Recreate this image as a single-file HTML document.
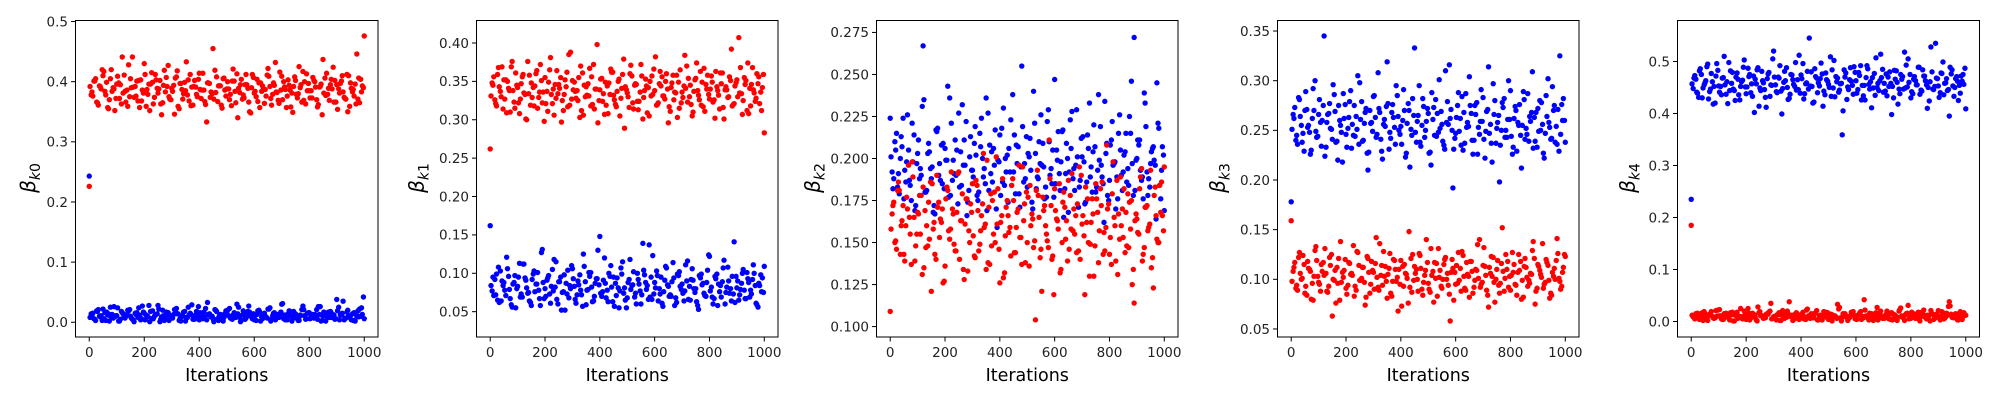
<!DOCTYPE html>
<html><head><meta charset="utf-8"><style>
html,body{margin:0;padding:0;background:#fff;}
svg{display:block;font-family:"DejaVu Sans","Liberation Sans",sans-serif;}
</style></head><body>
<svg id="fig" width="2000" height="400" viewBox="0 0 2000 400" xmlns="http://www.w3.org/2000/svg"></svg>
<script>
const iterTicks=[0,200,400,600,800,1000];
const iterations=[];for(let i=0;i<=100;i++)iterations.push(i*10);
const iterationsB=[];for(let i=0;i<100;i++)iterationsB.push(i*10+3);
const iterationsC=[];for(let i=0;i<100;i++)iterationsC.push(i*10+7);
const k0Red=[226,383,401,365,392,410,378,355,420,388,396,372,441,384,359,405,391,376,402,368,430,387,352,399,412,381,363,394,407,375,389,346,418,397,371,385,403,360,392,379,414,386,367,398,374,455,382,393,361,406,388,370,401,384,340,395,378,412,366,390,381,404,357,393,387,422,372,398,383,364,409,391,376,386,349,402,380,395,369,413,385,373,400,358,392,437,377,389,404,366,395,381,410,372,350,398,387,363,406,383,476];
const k0RedB=[392,376,405,361,388,417,399,370,384,352,409,395,381,366,428,390,374,401,357,386,412,379,396,363,403,388,345,419,392,371,384,406,359,397,380,433,368,391,402,375,387,414,362,398,383,371,408,393,356,386,400,379,421,365,389,404,373,395,350,412,384,367,398,388,376,409,361,394,382,416,370,387,403,358,392,379,425,366,400,385,373,407,391,362,396,381,414,369,388,402,354,397,383,371,410,389,376,446,365,393];
const k0RedC=[378,401,366,393,420,384,357,405,390,372,398,363,411,386,375,441,392,368,403,381,359,396,415,374,389,402,365,383,427,370,394,408,355,387,399,378,412,361,391,404,372,386,333,397,380,419,367,393,405,376,388,360,401,413,382,371,395,389,348,407,375,398,384,364,411,392,379,432,369,386,400,357,394,381,408,373,390,417,363,397,385,402,370,391,345,406,379,395,424,366,388,401,374,412,359,383,396,371,404,390];
const k0Blue=[243,12,5,18,9,22,3,14,8,26,11,2,16,7,20,10,4,13,24,6,15,9,1,19,12,28,5,11,17,3,8,21,14,6,10,2,25,13,7,18,4,15,9,33,11,6,20,3,12,8,16,23,5,10,14,1,19,7,27,11,4,13,17,6,9,22,2,15,10,8,30,12,4,18,7,14,3,11,21,6,16,9,13,5,26,10,2,17,8,12,38,4,15,7,20,11,3,14,9,24,6];
const k0BlueB=[8,15,3,21,11,6,17,2,13,9,24,5,14,10,19,7,1,16,12,27,4,10,18,6,13,22,9,3,15,11,7,20,14,2,17,8,12,29,5,10,16,6,23,13,9,1,18,11,4,14,20,7,12,8,25,3,15,10,17,6,11,19,2,13,9,22,5,16,8,12,31,4,14,10,18,7,3,21,11,15,6,13,9,26,2,17,10,8,14,5,19,12,35,7,11,4,16,9,22,13];
const k0BlueC=[14,6,19,10,3,16,12,25,7,11,2,18,9,13,21,5,15,8,4,17,12,28,6,10,14,1,20,9,16,7,13,23,3,11,18,8,15,5,12,26,9,17,4,14,10,21,6,13,2,19,11,7,16,30,8,12,5,18,10,14,3,20,9,15,7,24,11,4,13,17,6,10,19,2,14,8,12,27,5,16,10,7,21,13,3,15,9,18,11,6,25,12,4,17,8,14,2,19,10,42];
const k1Red=[262,345,321,368,330,352,309,338,376,315,342,327,359,301,334,348,318,364,336,322,355,311,381,340,328,346,297,333,362,319,351,337,325,370,306,343,331,356,314,398,339,324,349,308,366,332,317,353,341,289,335,360,322,347,313,372,329,344,305,357,338,320,363,331,350,296,342,326,358,315,336,384,323,345,310,354,332,319,367,340,327,349,302,338,361,316,343,330,392,321,352,335,307,346,374,318,339,328,356,312,283];
const k1RedB=[331,356,318,343,369,327,350,310,338,361,322,347,335,300,358,329,344,315,372,336,321,349,333,306,364,341,325,352,317,388,339,328,355,312,345,332,367,320,340,296,353,334,319,348,362,326,337,305,359,343,330,371,314,346,324,357,338,309,350,333,382,322,344,331,360,317,348,336,303,365,329,341,354,320,337,374,326,349,311,358,340,323,363,332,347,301,339,356,318,344,330,368,325,351,308,346,335,360,321,342];
const k1RedC=[348,326,359,337,314,352,341,369,323,345,308,356,333,376,319,342,360,329,351,298,337,365,321,346,334,355,312,343,385,327,349,338,303,361,330,347,318,372,340,325,354,307,344,333,362,320,350,328,379,339,316,357,345,324,336,301,353,342,331,366,319,347,356,327,340,311,358,335,349,322,344,370,330,305,352,338,363,317,346,333,357,326,343,314,361,339,329,351,320,348,407,334,355,312,341,368,324,347,336,359];
const k1Blue=[162,95,72,108,64,88,121,79,56,97,83,69,112,91,75,58,103,86,67,131,80,94,61,77,115,89,52,98,73,84,106,66,90,78,125,59,101,82,70,93,148,76,87,63,110,95,71,55,99,81,68,118,85,74,92,60,104,79,137,66,88,97,73,57,109,83,70,94,62,102,86,77,116,65,91,80,53,99,74,88,122,69,96,58,84,107,75,90,64,141,81,72,100,67,93,78,111,61,87,76,109];
const k1BlueB=[84,71,99,62,90,78,106,67,86,55,95,73,112,81,64,92,76,101,58,88,70,97,83,118,66,89,75,52,104,80,93,61,85,72,109,78,96,63,87,130,74,91,68,100,82,57,94,77,115,65,88,79,102,60,86,72,98,84,69,123,81,64,95,76,107,70,89,58,99,83,74,111,66,92,80,63,97,85,71,104,77,60,93,86,69,117,82,74,96,62,90,79,105,67,88,73,100,59,84,94];
const k1BlueC=[77,92,65,103,84,71,96,59,88,80,113,69,94,74,62,99,86,78,127,67,91,73,105,82,60,95,76,87,68,110,83,72,98,57,89,79,101,64,93,85,70,120,78,96,63,87,81,107,74,55,92,84,69,100,77,139,88,66,95,73,103,80,61,91,85,72,114,68,97,79,64,90,83,106,75,58,94,87,70,124,82,67,99,76,89,60,108,80,73,96,65,87,78,101,69,92,84,56,98,75];
const k2Blue=[224,182,205,191,213,176,198,187,221,169,203,194,267,180,209,188,172,216,197,185,206,243,178,199,190,227,184,211,166,201,193,219,175,207,189,236,181,204,196,159,214,186,200,174,223,192,208,179,255,197,183,212,170,203,188,226,195,177,210,185,247,199,181,217,191,168,206,194,229,183,201,173,214,189,204,180,238,196,162,209,187,222,198,176,205,192,215,184,246,272,200,211,189,233,178,197,207,164,218,193,169];
const k2BlueB=[201,188,215,179,207,193,226,184,198,172,211,190,235,181,204,195,167,218,187,209,199,177,221,191,205,183,232,196,174,213,189,202,180,224,194,169,208,186,217,199,178,230,192,206,184,214,197,171,219,188,203,193,240,182,210,196,176,222,190,205,185,216,198,165,209,192,228,181,201,187,213,174,206,195,220,183,199,189,234,178,208,196,170,215,190,202,186,225,197,181,211,193,176,219,188,204,199,245,184,207];
const k2BlueC=[192,210,183,200,224,186,205,175,214,197,188,231,180,203,194,168,217,190,208,182,199,236,187,211,173,204,196,222,181,193,209,178,215,200,185,227,191,206,170,198,218,184,202,192,238,179,207,195,186,213,201,174,221,189,197,209,183,229,194,177,205,191,216,182,200,223,188,196,171,212,198,186,233,180,207,193,219,185,203,175,211,197,189,226,181,204,194,215,178,199,208,187,239,192,183,206,196,221,176,202];
const k2Red=[109,172,151,186,160,143,177,165,198,139,168,155,183,147,174,121,162,190,153,170,136,181,158,167,145,192,163,128,176,150,185,141,169,157,203,134,171,148,180,161,126,188,154,166,142,175,159,196,137,173,150,184,164,104,178,146,169,155,211,140,182,163,132,174,152,187,158,170,144,195,161,119,176,149,167,185,138,172,156,208,143,179,160,131,189,153,168,147,175,114,164,182,139,171,157,193,123,166,150,186,195];
const k2RedB=[158,174,146,181,163,139,170,155,189,148,167,178,135,160,152,185,143,171,164,126,176,157,192,149,168,140,179,161,133,173,154,187,145,166,159,199,137,175,150,182,162,129,171,156,184,144,168,153,195,138,177,160,147,181,165,121,172,151,188,142,169,158,134,180,163,146,191,155,173,140,166,183,150,162,130,176,157,186,145,170,153,198,139,167,160,182,148,174,125,163,156,189,143,171,159,135,178,152,184,166];
const k2RedC=[167,150,181,143,172,160,196,137,165,155,178,131,169,148,186,158,140,174,162,127,183,152,170,145,191,163,134,176,157,168,142,184,149,173,161,138,179,155,201,146,166,132,175,159,188,144,170,153,163,180,136,167,151,193,141,177,160,147,172,119,164,185,150,171,139,178,157,166,145,190,154,162,130,176,148,168,182,143,159,173,137,165,187,152,170,144,179,158,134,167,155,194,147,172,161,141,183,150,168,157];
const k3Blue=[178,262,245,281,238,270,253,226,292,249,266,234,345,258,277,241,269,220,255,287,246,263,232,275,251,298,239,268,210,257,284,243,272,229,261,319,248,276,236,264,254,291,227,270,245,333,259,238,282,250,267,215,273,244,301,256,231,279,262,192,247,288,235,268,253,304,240,275,226,259,283,249,314,237,266,252,198,278,243,261,290,233,270,255,212,281,246,264,309,239,272,250,227,285,258,242,275,236,325,260,238];
const k3BlueB=[251,273,236,264,247,289,255,230,270,243,281,260,224,266,252,296,238,275,248,262,233,279,256,244,305,261,240,272,228,258,285,246,268,221,254,277,242,263,295,250,236,270,257,213,282,248,265,234,274,259,227,288,245,267,252,239,310,256,271,231,263,249,284,237,258,275,226,266,253,291,241,269,247,218,280,258,235,273,250,300,244,262,229,276,255,241,287,259,232,268,249,278,222,264,253,294,238,271,246,282];
const k3BlueC=[266,240,283,255,229,271,248,262,300,244,258,275,233,267,251,286,239,260,218,276,252,290,245,264,236,279,257,227,270,249,263,308,241,256,274,231,268,253,285,246,260,223,277,251,265,238,295,255,243,272,228,261,281,248,269,235,258,316,250,242,275,262,230,287,254,267,240,278,246,259,222,271,256,297,237,265,250,282,243,261,226,274,258,245,289,252,239,268,263,233,280,256,247,302,241,270,254,229,276,260];
const k3Red=[159,112,94,127,101,86,118,108,79,133,97,115,104,88,122,63,109,96,138,102,91,117,106,83,128,99,112,74,121,95,107,142,89,114,103,81,126,98,110,68,119,93,105,148,87,113,100,124,84,109,96,131,77,116,102,91,120,106,58,111,95,127,88,103,117,82,108,99,135,92,114,104,72,123,97,110,86,152,101,118,89,107,94,125,80,113,102,96,129,75,115,105,91,120,99,84,111,141,98,107,123];
const k3RedB=[98,117,89,106,124,93,111,80,103,119,95,108,131,87,114,100,76,121,97,109,85,116,104,93,127,99,112,82,107,118,90,102,136,94,113,105,86,120,98,110,73,115,101,92,125,106,88,111,97,140,90,104,117,83,109,100,122,94,107,79,114,99,128,91,105,118,86,110,101,95,132,89,112,103,77,119,96,108,125,92,104,115,84,109,99,121,93,106,138,88,113,102,95,117,81,107,100,126,90,112];
const k3RedC=[108,91,122,100,115,84,110,96,129,103,88,117,106,93,125,99,112,79,107,120,94,105,134,89,114,101,97,123,86,109,116,92,104,128,98,111,83,119,102,95,113,106,76,121,99,110,126,90,104,117,87,108,101,131,93,115,100,85,120,107,96,111,124,89,103,118,92,109,140,97,113,84,106,122,100,94,116,88,110,103,127,95,107,118,82,112,99,105,121,91,109,136,97,114,86,103,119,101,93,125];
const k4Blue=[235,468,441,482,430,459,495,447,418,472,453,436,510,461,444,479,425,466,452,489,438,471,457,402,484,449,463,431,476,455,520,442,468,399,481,450,437,465,498,446,474,428,459,545,452,486,440,467,414,478,456,433,502,461,445,359,470,451,488,437,463,479,426,454,492,447,469,435,458,514,441,476,452,398,483,460,438,471,449,505,430,466,455,489,443,472,410,461,447,535,453,478,436,467,395,484,450,462,439,475,409];
const k4BlueB=[457,473,439,486,449,463,428,477,452,496,441,468,455,419,482,447,470,436,461,503,451,475,433,466,488,444,459,412,479,454,470,440,492,448,463,427,475,456,445,512,467,438,481,453,420,471,459,497,443,465,450,484,432,468,457,405,478,446,462,490,439,473,454,426,486,461,449,507,444,469,458,434,480,452,466,418,475,447,493,460,442,471,455,437,484,463,450,528,446,468,431,477,458,444,489,453,467,425,472,456];
const k4BlueC=[448,466,431,475,455,490,442,461,420,483,452,469,437,498,458,444,478,426,464,451,487,440,472,457,414,481,446,467,433,505,455,470,443,460,488,429,474,452,465,439,496,457,447,480,422,468,453,476,436,462,509,449,471,441,458,484,427,465,454,479,446,492,434,469,456,411,477,450,463,485,443,470,458,430,482,447,466,518,451,475,438,463,489,445,472,455,424,480,452,467,440,499,459,446,476,433,471,454,462,487];
const k4Red=[185,8,13,4,17,10,2,14,7,21,11,5,15,9,3,18,12,6,25,10,4,16,8,13,1,19,11,7,14,35,9,3,17,12,6,20,10,2,15,8,13,5,22,11,7,16,3,12,9,18,4,14,10,6,27,8,15,2,11,19,7,13,4,42,10,16,6,12,3,20,9,14,5,17,11,2,23,8,13,31,6,15,10,4,18,9,12,1,14,7,21,11,5,16,38,8,13,3,19,10,12];
const k4RedB=[12,5,16,9,2,14,11,19,6,10,23,4,13,8,17,1,15,10,7,20,12,3,16,9,28,11,6,14,18,5,10,13,2,21,8,15,11,7,17,4,13,9,24,6,12,16,3,10,19,8,14,1,11,33,7,15,9,5,18,12,4,16,10,22,7,13,2,17,9,11,6,20,14,3,12,8,26,10,15,5,18,9,13,1,16,11,7,21,4,14,10,19,6,12,30,8,15,3,11,17];
const k4RedC=[9,15,6,12,19,3,14,10,7,22,11,4,16,8,13,1,18,10,5,14,25,9,12,3,17,11,7,15,20,6,10,13,2,16,8,38,12,5,14,9,18,4,11,15,7,21,10,3,13,17,6,12,9,24,1,14,10,8,16,5,12,19,7,11,3,15,9,27,13,6,10,17,4,14,8,20,11,2,16,9,13,6,18,10,22,5,12,15,8,11,3,17,9,29,14,7,10,16,4,12];
const yTicks0=[0.0,0.1,0.2,0.3,0.4,0.5];
const yTicks1=[0.05,0.10,0.15,0.20,0.25,0.30,0.35,0.40];
const yTicks2=[0.100,0.125,0.150,0.175,0.200,0.225,0.250,0.275];
const yTicks3=[0.05,0.10,0.15,0.20,0.25,0.30,0.35];
const yTicks4=[0.0,0.1,0.2,0.3,0.4,0.5];

const NS="http://www.w3.org/2000/svg";
const svg=document.getElementById('fig');
function mk(tag,attrs,parent){const e=document.createElementNS(NS,tag);for(const k in attrs)e.setAttribute(k,attrs[k]);(parent||svg).appendChild(e);return e;}
const panels=[
 {L:75.5,R:378,ymin:-0.0245,ymax:0.5017,ticks:yTicks0,dec:1,sub:"0",labOff:47.5,blue:[k0Blue,k0BlueB,k0BlueC],red:[k0Red,k0RedB,k0RedC]},
 {L:476.5,R:778,ymin:0.017,ymax:0.4293,ticks:yTicks1,dec:2,sub:"1",labOff:60,blue:[k1Blue,k1BlueB,k1BlueC],red:[k1Red,k1RedB,k1RedC]},
 {L:876.5,R:1178,ymin:0.0938,ymax:0.2821,ticks:yTicks2,dec:3,sub:"2",labOff:64,blue:[k2Blue,k2BlueB,k2BlueC],red:[k2Red,k2RedB,k2RedC]},
 {L:1277.5,R:1579,ymin:0.0419,ymax:0.3606,ticks:yTicks3,dec:2,sub:"3",labOff:60,blue:[k3Blue,k3BlueB,k3BlueC],red:[k3Red,k3RedB,k3RedC]},
 {L:1677.5,R:1979.5,ymin:-0.0298,ymax:0.5788,ticks:yTicks4,dec:1,sub:"4",labOff:50,blue:[k4Blue,k4BlueB,k4BlueC],red:[k4Red,k4RedB,k4RedC]}
];
const iterSets=[iterations,iterationsB,iterationsC];
const T=20.5,B=337;
panels.forEach((p)=>{
  const g=mk('g',{});
  
  
  const xs=v=>p.L+(v+50)/1100*(p.R-p.L);
  const ys=v=>B-(v-p.ymin)/(p.ymax-p.ymin)*(B-T);
  const bg=mk('g',{},g);
  
  
  p.blue.forEach((arr,si)=>arr.forEach((v,i)=>{const c=mk('circle',{cx:xs(iterSets[si][i]),cy:ys(v/1000),r:2.7,fill:'#0000ff'},bg);
    
    }));
  const rg=mk('g',{},g);
  
  
  p.red.forEach((arr,si)=>arr.forEach((v,i)=>{const c=mk('circle',{cx:xs(iterSets[si][i]),cy:ys(v/1000),r:2.7,fill:'#ff0000'},rg);
    
    }));
  const fr=mk('rect',{x:p.L,y:T,width:p.R-p.L,height:B-T,fill:'none',stroke:'#000','stroke-width':1},g);
  
  
  iterTicks.forEach(t=>{const x=xs(t);
    mk('line',{x1:x,y1:B,x2:x,y2:B+4.5,stroke:'#000','stroke-width':1},g);
    const tx=mk('text',{x:x,y:B+20,'font-size':13.5,'text-anchor':'middle',fill:'#222'},g);
    tx.textContent=t;
    
    });
  p.ticks.forEach(t=>{const y=ys(t);
    mk('line',{x1:p.L-4.5,y1:y,x2:p.L,y2:y,stroke:'#000','stroke-width':1},g);
    const tx=mk('text',{x:p.L-7.5,y:y+4.8,'font-size':13.5,'text-anchor':'end',fill:'#222'},g);
    tx.textContent=t.toFixed(p.dec);
    
    });
  const xl=mk('text',{x:(p.L+p.R)/2,y:B+44,'font-size':17.5,'text-anchor':'middle',fill:'#000'},g);
  xl.textContent='Iterations';
  
  
  const lx=p.L-p.labOff, ly=178;
  const yl=mk('text',{x:lx,y:ly,'font-size':20,'text-anchor':'middle',fill:'#000',transform:`rotate(-90 ${lx} ${ly})`,dy:7},g);
  
  
  const t1=mk('tspan',{'font-style':'italic'},yl);t1.textContent='β';
  const t2=mk('tspan',{'font-size':14,dy:5,'font-style':'italic'},yl);t2.textContent='k';
  const t3=mk('tspan',{'font-size':14},yl);t3.textContent=p.sub;
});
</script>
</body></html>
